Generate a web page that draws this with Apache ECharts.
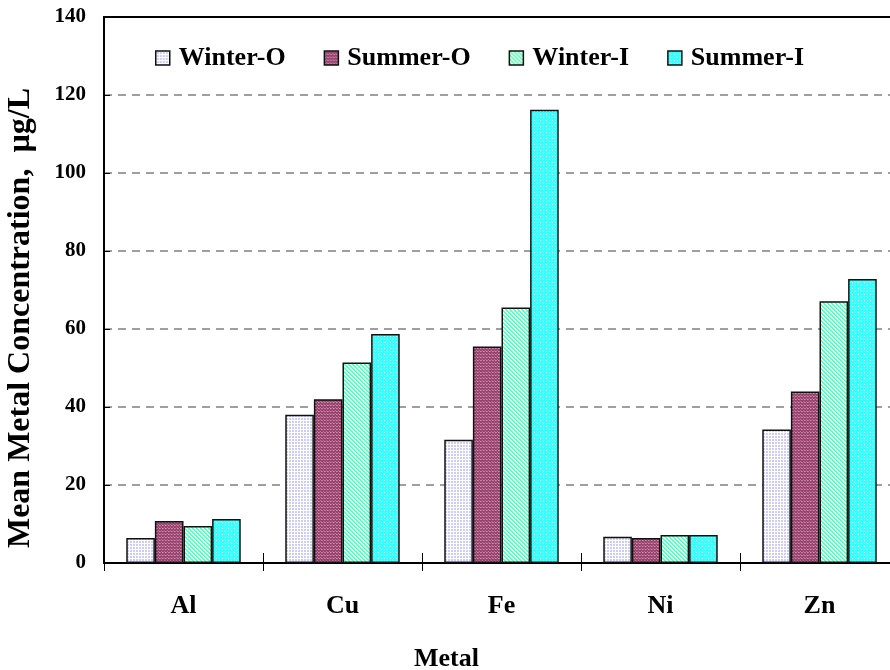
<!DOCTYPE html>
<html>
<head>
<meta charset="utf-8">
<script src="https://cdn.jsdelivr.net/npm/echarts@6/dist/echarts.min.js"></script>
<style>
  html, body { margin: 0; padding: 0; background: #fff; }
  #chart { width: 890px; height: 670px; }
</style>
</head>
<body>
<div id="chart"></div>
<script>
const metals = ["Al", "Cu", "Fe", "Ni", "Zn"];
const seriesNames = ["Winter-O", "Summer-O", "Winter-I", "Summer-I"];
const winterO = [6.4, 38.0, 31.6, 6.7, 34.2];
const summerO = [10.8, 42.0, 55.5, 6.4, 44.0];
const winterI = [9.5, 51.4, 65.5, 7.2, 67.1];
const summerI = [11.3, 58.7, 116.2, 7.2, 72.8];
const yTicks = [0, 20, 40, 60, 80, 100, 120, 140];

// small tiled textures, like the spreadsheet fills
function pattern(size, bg, dots) {
  const c = document.createElement("canvas");
  c.width = size; c.height = size;
  const ctx = c.getContext("2d");
  ctx.fillStyle = bg;
  ctx.fillRect(0, 0, size, size);
  dots.forEach(([x, y, col]) => {
    ctx.fillStyle = col;
    ctx.fillRect(x, y, 1, 1);
  });
  return { image: c, repeat: "repeat" };
}

const fills = [
  pattern(3, "#ccccff", [[0, 0, "#ffffff"], [1, 0, "#ffffff"], [2, 0, "#ffffff"], [0, 1, "#ffffff"], [0, 2, "#ffffff"]]),
  pattern(3, "#9c4470", [[0, 0, "#c890ac"], [1, 0, "#b87096"], [2, 2, "#b07090"]]),
  pattern(4, "#ffffb0", [[0, 0, "#33ffff"], [1, 1, "#33ffff"], [2, 2, "#33ffff"], [3, 3, "#33ffff"], [1, 0, "#66ffee"], [2, 1, "#66ffee"], [3, 2, "#66ffee"], [0, 3, "#66ffee"]]),
  pattern(3, "#33ffff", [[0, 0, "#ccffff"], [2, 2, "#66ffff"]])
];

const values = [winterO, summerO, winterI, summerI];
const font = '"Liberation Serif", "Times New Roman", serif';

const chart = echarts.init(document.getElementById("chart"));

const option = {
  backgroundColor: "#fff",
  textStyle: { fontFamily: font, color: "#000", fontWeight: "bold" },
  grid: {
    left: 104,
    top: 17,
    width: 795,
    height: 546,
    outerBoundsMode: "none",
    containLabel: false,
    show: true,
    borderColor: "#000",
    borderWidth: 2
  },
  legend: {
    data: seriesNames,
    left: 150,
    top: 40,
    icon: "rect",
    itemWidth: 14,
    itemHeight: 14,
    itemGap: 38,
    itemStyle: { borderColor: "#111", borderWidth: 1.5 },
    textStyle: {
      fontFamily: font,
      fontSize: 26,
      fontWeight: "bold",
      color: "#000",
      padding: [0, 0, 0, 4]
    }
  },
  xAxis: [
    {
      type: "category",
      data: metals,
      axisLine: { lineStyle: { color: "#000", width: 2 } },
      axisTick: { show: true, length: 8, lineStyle: { color: "#000", width: 1 } },
      axisLabel: {
        fontFamily: font,
        fontSize: 26,
        fontWeight: "bold",
        color: "#000",
        margin: 30
      },
      name: "Metal",
      nameLocation: "middle",
      nameGap: 83,
      nameTextStyle: {
        fontFamily: font,
        fontSize: 26,
        fontWeight: "bold",
        color: "#000",
        padding: [0, 110, 0, 0]
      }
    },
    {
      // upper half of the crossing ticks between categories
      type: "category",
      data: metals,
      position: "bottom",
      axisLine: { show: false },
      axisTick: { show: true, inside: true, length: 10, lineStyle: { color: "#000", width: 1 } },
      axisLabel: { show: false }
    }
  ],
  yAxis: {
    type: "value",
    min: yTicks[0],
    max: yTicks[yTicks.length - 1],
    interval: 20,
    axisLine: { show: true, lineStyle: { color: "#000", width: 2 } },
    axisTick: { show: true, inside: true, length: 6, lineStyle: { color: "#000" } },
    axisLabel: {
      fontFamily: font,
      fontSize: 21,
      fontWeight: "bold",
      color: "#000",
      margin: 18
    },
    splitLine: {
      show: true,
      showMinLine: false,
      showMaxLine: false,
      lineStyle: { color: "#808080", width: 1.5, type: [8, 6] }
    },
    name: "Mean Metal Concentration,  \u00b5g/L",
    nameLocation: "middle",
    nameGap: 67,
    nameTextStyle: {
      fontFamily: font,
      fontSize: 32,
      fontWeight: "bold",
      color: "#000",
      padding: [0, 56, 0, 0]
    }
  },
  series: seriesNames.map((name, i) => ({
    name: name,
    type: "bar",
    data: values[i],
    barGap: "0%",
    barCategoryGap: "28%",
    itemStyle: {
      color: fills[i],
      borderColor: "#111",
      borderWidth: 1.5
    }
  }))
};

chart.setOption(option);
</script>
</body>
</html>
